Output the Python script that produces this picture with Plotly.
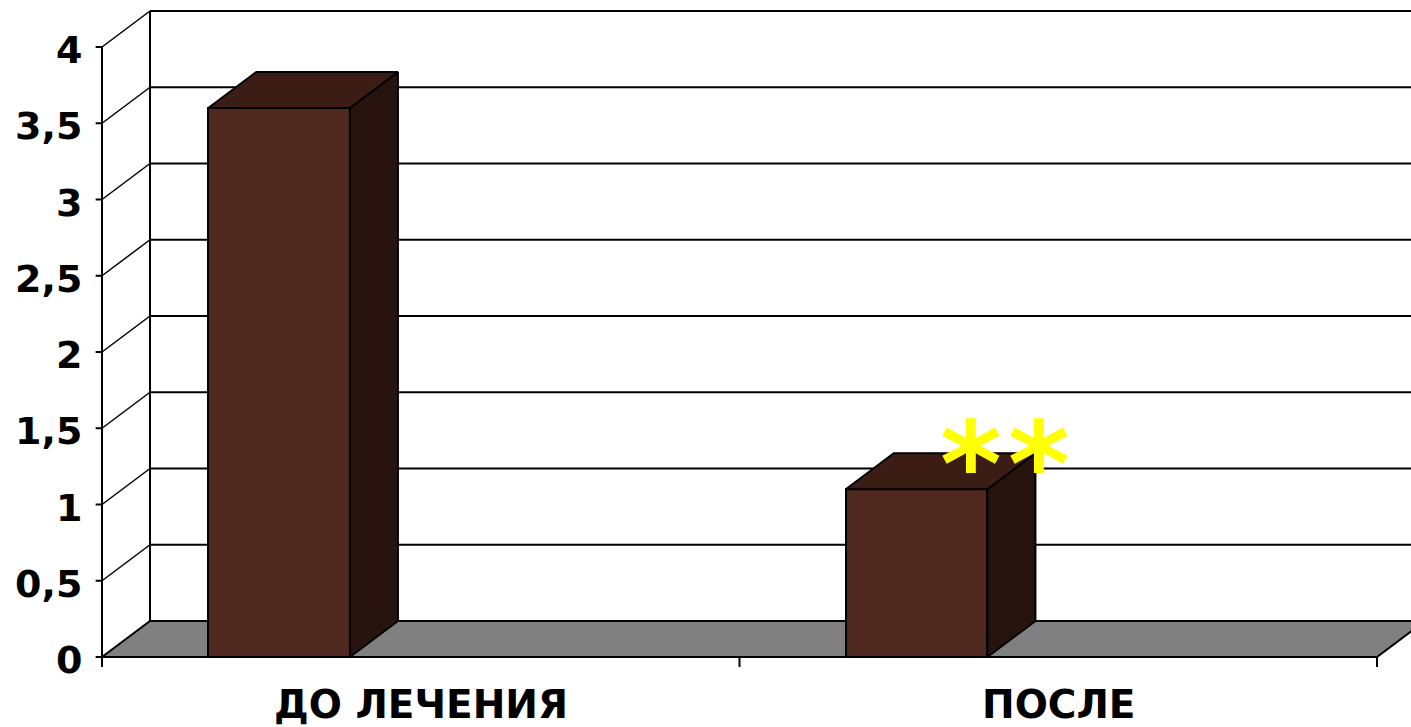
import plotly.graph_objects as go

# Data
categories = ["ДО ЛЕЧЕНИЯ", "ПОСЛЕ"]
values = [3.6, 1.1]
y_ticks = [0, 0.5, 1, 1.5, 2, 2.5, 3, 3.5, 4]
y_tick_labels = ["0", "0,5", "1", "1,5", "2", "2,5", "3", "3,5", "4"]
significance = ["*", "*"]

# 3D look: depth offsets of the back wall, in axis units
DX = 0.0753          # horizontal depth offset (category units)
DY = 0.236           # vertical depth offset (value units)
BAR_W = 0.2222       # bar width in category units
BAR_OFF = 0.2778     # bar centre offset inside a category slot
N_CAT = len(categories)
YMAX = 4

FRONT = "#4f2820"
TOP = "#3b1d16"
SIDE = "#27140e"
FLOOR = "#808080"
LINE = "#000000"
FONT = "DejaVu Sans"

fig = go.Figure()

shapes = []
# Floor (grey slab)
shapes.append(dict(
    type="path", layer="below",
    path=f"M 0 0 L {N_CAT} 0 L {N_CAT + DX} {DY} L {DX} {DY} Z",
    xref="x", yref="y", fillcolor=FLOOR, line=dict(color=LINE, width=2)))
# Back wall gridlines and side-wall diagonals
for v in y_ticks:
    if v > 0:
        shapes.append(dict(type="line", layer="below", xref="x", yref="y",
                           x0=DX, y0=v + DY, x1=N_CAT + 1, y1=v + DY,
                           line=dict(color=LINE, width=2)))
        shapes.append(dict(type="line", layer="below", xref="x", yref="y",
                           x0=0, y0=v, x1=DX, y1=v + DY,
                           line=dict(color=LINE, width=1.5)))
# Back wall left edge
shapes.append(dict(type="line", layer="below", xref="x", yref="y",
                   x0=DX, y0=DY, x1=DX, y1=YMAX + DY,
                   line=dict(color=LINE, width=2)))
# Front value axis and its ticks
shapes.append(dict(type="line", layer="below", xref="x", yref="y",
                   x0=0, y0=0, x1=0, y1=YMAX, line=dict(color=LINE, width=2)))
for v in y_ticks:
    shapes.append(dict(type="line", layer="below", xref="x", yref="y",
                       x0=-0.01, y0=v, x1=0, y1=v, line=dict(color=LINE, width=2)))
# Category ticks
for i in range(N_CAT + 1):
    shapes.append(dict(type="line", layer="below", xref="x", yref="y",
                       x0=i, y0=0, x1=i, y1=-0.065, line=dict(color=LINE, width=2)))

# Front faces of the columns
bar_x = [i + BAR_OFF for i in range(N_CAT)]
fig.add_trace(go.Bar(
    x=bar_x, y=values, width=BAR_W, base=0,
    marker=dict(color=FRONT, line=dict(color=LINE, width=2)),
    hoverinfo="skip", showlegend=False))

# Top and side faces
for xc, v in zip(bar_x, values):
    xl, xr = xc - BAR_W / 2, xc + BAR_W / 2
    fig.add_trace(go.Scatter(
        x=[xr, xr + DX, xr + DX, xr, xr], y=[0, DY, v + DY, v, 0],
        mode="lines", fill="toself", fillcolor=SIDE,
        line=dict(color=LINE, width=2), hoverinfo="skip", showlegend=False))
    fig.add_trace(go.Scatter(
        x=[xl, xl + DX, xr + DX, xr, xl], y=[v, v + DY, v + DY, v, v],
        mode="lines", fill="toself", fillcolor=TOP,
        line=dict(color=LINE, width=2), hoverinfo="skip", showlegend=False))

annotations = []
for v, lab in zip(y_ticks, y_tick_labels):
    annotations.append(dict(x=-0.029, y=v, xref="x", yref="y", text=f"<b>{lab}</b>",
                            showarrow=False, xanchor="right", yanchor="middle",
                            yshift=-3,
                            font=dict(family=FONT, size=38, color="#000000")))
for i, c in enumerate(categories):
    annotations.append(dict(x=i + 0.5, y=-0.31, xref="x", yref="y", text=f"<b>{c}</b>",
                            showarrow=False, xanchor="center", yanchor="middle",
                            font=dict(family=FONT, size=39, color="#000000")))
# Significance marks above the second column
for k, s in enumerate(significance):
    annotations.append(dict(x=bar_x[1] + 0.085 + k * 0.107, y=values[1] + 0.16,
                            xref="x", yref="y", text=f"<b>{s}</b>", showarrow=False,
                            xanchor="center", yanchor="middle",
                            font=dict(family=FONT, size=118, color="#ffff00")))

PX_PER_CAT = 637.5
PX_PER_UNIT = 152.5
fig.update_layout(
    width=1411, height=727,
    margin=dict(l=0, r=0, t=0, b=0),
    paper_bgcolor="#ffffff", plot_bgcolor="#ffffff",
    xaxis=dict(range=[-102 / PX_PER_CAT, (1411 - 102) / PX_PER_CAT], visible=False, fixedrange=True),
    yaxis=dict(range=[-(727 - 657) / PX_PER_UNIT, 657 / PX_PER_UNIT], visible=False, fixedrange=True),
    shapes=shapes, annotations=annotations, bargap=0,
)

fig.write_html("out.html")
